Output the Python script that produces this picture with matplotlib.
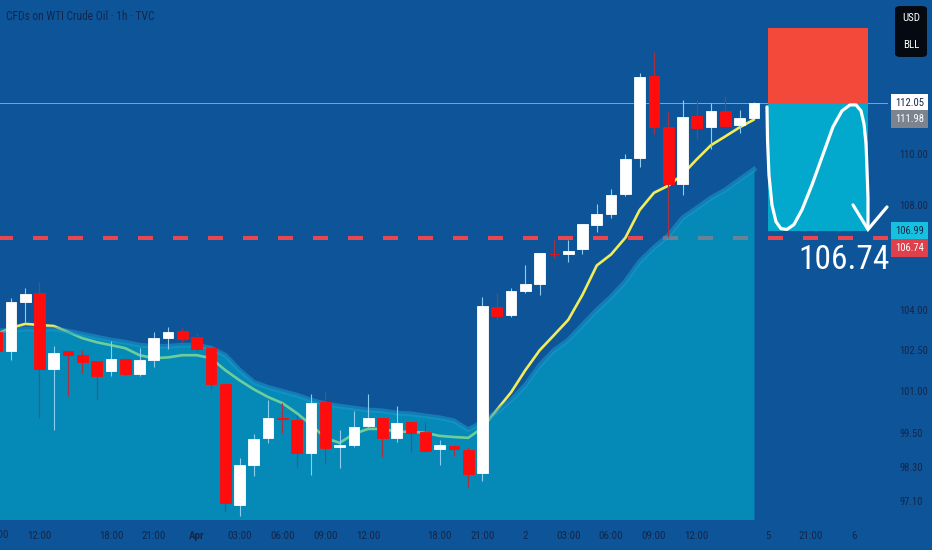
import matplotlib
matplotlib.use('Agg')
import matplotlib.pyplot as plt
from matplotlib.ticker import NullLocator, NullFormatter
from matplotlib.patches import Rectangle, FancyBboxPatch
from matplotlib import transforms

plt.rcParams['font.family'] = ['Roboto Condensed', 'DejaVu Sans']

# 1h bars, index 0 = 12:00 on Mar 31
bar_idx = list(range(-3, 51))
opens = [103.18, 102.46, 104.30, 104.65, 101.80, 102.46, 102.32, 102.10, 101.73, 102.17,
         101.62, 102.13, 102.95, 103.21, 102.99, 102.58, 101.26, 96.96, 98.34, 99.32,
         100.05, 99.96, 98.77, 100.61, 98.99, 99.06, 99.75, 100.04, 99.32, 99.89,
         99.54, 98.92, 99.03, 98.88, 98.06, 104.11, 103.81, 104.72, 104.99, 106.13,
         106.10, 106.29, 107.24, 107.66, 108.44, 109.84, 113.15, 111.10, 108.84, 111.54,
         111.07, 111.73, 111.18, 111.46]
highs = [103.25, 104.46, 104.84, 105.07, 102.65, 102.46, 102.50, 102.10, 102.84, 102.21,
         102.58, 103.18, 103.36, 103.33, 103.14, 102.58, 101.26, 98.59, 99.46, 100.68,
         100.57, 100.14, 100.89, 101.00, 99.61, 100.29, 100.89, 100.04, 100.46, 99.89,
         99.89, 99.25, 99.03, 98.99, 104.49, 104.65, 104.84, 105.68, 106.17, 106.67,
         106.67, 107.28, 108.04, 108.64, 110.00, 113.27, 114.14, 111.70, 112.17, 112.17,
         112.05, 112.33, 111.77, 112.09]
lows = [102.32, 102.13, 103.55, 100.04, 99.61, 100.82, 101.66, 100.68, 101.55, 101.55,
        101.55, 101.88, 102.54, 102.80, 102.46, 101.07, 96.69, 96.55, 97.96, 99.14,
        99.50, 98.27, 97.99, 98.41, 98.23, 98.99, 99.71, 98.63, 99.17, 98.81,
        98.81, 98.37, 98.66, 97.58, 97.79, 103.63, 103.74, 104.65, 104.57, 105.98,
        105.83, 106.13, 106.97, 107.50, 108.36, 109.48, 110.79, 106.78, 108.40, 110.59,
        110.20, 111.07, 110.83, 111.46]
closes = [102.46, 104.30, 104.61, 101.80, 102.39, 102.32, 102.06, 101.55, 102.17, 101.62,
          102.13, 102.95, 103.18, 102.91, 102.54, 101.26, 97.00, 98.34, 99.28, 100.04,
          99.99, 98.77, 100.57, 98.95, 99.06, 99.71, 100.04, 99.32, 99.86, 99.50,
          98.84, 99.06, 98.92, 98.03, 104.15, 103.78, 104.72, 104.99, 106.17, 106.11,
          106.25, 107.28, 107.66, 108.40, 109.80, 113.11, 111.07, 108.84, 111.50, 111.03,
          111.73, 111.14, 111.46, 112.05]

# fast moving average (yellow) and slow one (filled area)
ma_fast = [103.10, 103.33, 103.48, 103.44, 103.40, 103.18, 102.95, 102.80, 102.69, 102.58,
           102.32, 102.21, 102.24, 102.32, 102.32, 102.21, 101.77, 101.40, 101.07, 100.79,
           100.57, 100.21, 99.79, 99.32, 99.14, 99.46, 99.64, 99.64, 99.54, 99.54,
           99.50, 99.39, 99.35, 99.32, 99.68, 100.32, 100.96, 101.77, 102.50, 103.06,
           103.63, 104.57, 105.68, 106.10, 106.74, 107.81, 108.48, 108.76, 109.20, 109.80,
           110.36, 110.71, 111.07, 111.38]
ma_slow = [103.21, 103.25, 103.29, 103.29, 103.29, 103.21, 103.10, 102.99, 102.88, 102.80,
           102.69, 102.65, 102.65, 102.69, 102.69, 102.58, 102.32, 101.77, 101.33, 101.14,
           101.00, 100.86, 100.68, 100.54, 100.46, 100.39, 100.32, 100.29, 100.21, 100.18,
           100.11, 100.04, 99.93, 99.61, 99.89, 100.25, 100.68, 101.22, 101.95, 102.50,
           102.88, 103.44, 104.00, 104.49, 105.07, 105.83, 106.36, 106.82, 107.50, 107.89,
           108.28, 108.60, 109.00, 109.40]

xtick_pos = [0, 5, 8, 11, 14, 17, 20, 23, 28, 31, 34, 37, 40, 43, 46, 51, 54, 57]
xtick_lab = ['12:00', '18:00', '21:00', 'Apr', '03:00', '06:00', '09:00', '12:00', '18:00',
             '21:00', '2', '03:00', '06:00', '09:00', '12:00', '5', '21:00', '6']
ytick_val = [110.00, 108.00, 104.00, 102.50, 101.00, 99.50, 98.30, 97.10]

last_price = 112.05
prev_price = 111.98
target_price = 106.99
level_price = 106.74
stop_price = 115.12
box_start, box_end = 51, 58

# hand-drawn arrow (bar index, price)
sketch_x = [50.91, 50.95, 51.05, 51.26, 51.54, 51.89, 52.31, 52.80, 53.36, 54.06, 54.83,
            55.53, 56.16, 56.72, 57.14, 57.49, 57.70, 57.84, 57.91, 57.98, 57.98]
sketch_y = [111.89, 110.56, 109.18, 108.01, 107.36, 107.09, 107.06, 107.25, 107.82, 108.79,
            109.99, 111.09, 111.73, 111.97, 111.97, 111.73, 111.21, 110.42, 109.42, 108.28,
            107.17]
head_x = [56.93, 57.98, 59.31]
head_y = [108.01, 107.06, 107.93]

bg = '#0d5598'
ink = '#14264a'

fig = plt.figure(figsize=(9.32, 5.50), dpi=100, facecolor=bg)
ax = fig.add_axes([0, 31 / 550, 888 / 932, 519 / 550], facecolor=bg)
ax.set_yscale('log')
ax.set_xlim(-2.764, 59.38)
ax.set_ylim(96.46, 116.28)
for s in ax.spines.values():
    s.set_visible(False)

# level lines
ax.axhline(last_price, color='#9cb9d8', lw=0.7, alpha=0.8, zorder=1)
ax.axhline(level_price, color='#e8474f', lw=2.9, ls=(0.5, (3.72, 4.97)), zorder=1.2)

# fast MA under the translucent area
ax.plot(bar_idx, ma_fast, color='#f2ec5a', lw=1.9, zorder=1.5, solid_capstyle='round')
ax.fill_between(bar_idx, ma_slow, 90, color='#00b4d2', alpha=0.55, lw=0, zorder=2)
ax.plot(bar_idx, ma_slow, color='#1a9ccd', lw=3.5, alpha=0.55, zorder=2.1)

# candles
for i, o, h, l, c in zip(bar_idx, opens, highs, lows, closes):
    up = c >= o
    body = '#ffffff' if up else '#ff0d0d'
    wick = '#8fcdf0' if up else '#a8323f'
    ax.vlines(i, l, h, color=wick, lw=0.8, zorder=3)
    ax.bar(i, abs(c - o), bottom=min(o, c), width=0.75, color=body,
           edgecolor=body, lw=0.6, zorder=3.2)

# short position box
ax.add_patch(Rectangle((box_start, last_price), box_end - box_start, stop_price - last_price,
                       facecolor='#f3493b', edgecolor='none', zorder=2.5))
ax.add_patch(Rectangle((box_start, target_price), box_end - box_start, last_price - target_price,
                       facecolor='#03a9cc', edgecolor='none', zorder=2.5))
ax.plot(sketch_x, sketch_y, color='white', lw=2.3, solid_capstyle='round',
        solid_joinstyle='round', zorder=4, clip_on=False)
ax.plot(head_x, head_y, color='white', lw=2.3, solid_capstyle='round',
        solid_joinstyle='miter', zorder=4, clip_on=False)
ax.text(56.3, 105.9, '106.74', color='white', fontsize=24, ha='center', va='center', zorder=4)

# x axis
ax.set_xticks(xtick_pos, xtick_lab)
ax.tick_params(axis='x', length=0, pad=8.5, labelsize=7.9, labelcolor=ink)
for lab in ax.get_xticklabels():
    if lab.get_text() == 'Apr':
        lab.set_fontweight('bold')
trans_x = transforms.blended_transform_factory(ax.transData, ax.transAxes)
ax.text(-3, -0.0308, '09:00', transform=trans_x, ha='center', va='center',
        fontsize=7.9, color=ink, clip_on=False)

# y axis on the right
ax.yaxis.tick_right()
ax.set_yticks(ytick_val, ['%.2f' % v for v in ytick_val])
ax.yaxis.set_minor_locator(NullLocator())
ax.yaxis.set_minor_formatter(NullFormatter())
ax.tick_params(axis='y', length=0, pad=8, labelsize=7.6, labelcolor=ink)

tags = [('%.2f' % last_price, last_price, 0, 'white', ink),
        ('%.2f' % prev_price, last_price, -16, '#7b848f', 'white'),
        ('%.2f' % target_price, target_price, 0, '#16c0de', ink),
        ('%.2f' % level_price, target_price, -17, '#e0404c', 'white')]
for txt, p, dy, fc, tc in tags:
    ax.annotate(txt, xy=(1.0, p), xycoords=('axes fraction', 'data'),
                xytext=(7, dy), textcoords='offset pixels', ha='left', va='center',
                fontsize=7.7, color=tc, annotation_clip=False, zorder=5,
                bbox=dict(boxstyle='square,pad=0.38', fc=fc, ec='none'))

# currency badge
fig.patches.append(FancyBboxPatch((895 / 932, 1 - 57 / 550), 32 / 932, 51 / 550,
                                  boxstyle='round,pad=0,rounding_size=0.006',
                                  transform=fig.transFigure, fc='#050a12', ec='none'))
fig.text(911 / 932, 1 - 18 / 550, 'USD', color='white', fontsize=7.8, ha='center', va='center')
fig.text(911 / 932, 1 - 45 / 550, 'BLL', color='white', fontsize=7.8, ha='center', va='center')

fig.text(6 / 932, 1 - 17 / 550, 'CFDs on WTI Crude Oil · 1h · TVC', color=ink,
         fontsize=8.3, ha='left', va='center')

fig.savefig('out.png', dpi=100, facecolor=bg)
